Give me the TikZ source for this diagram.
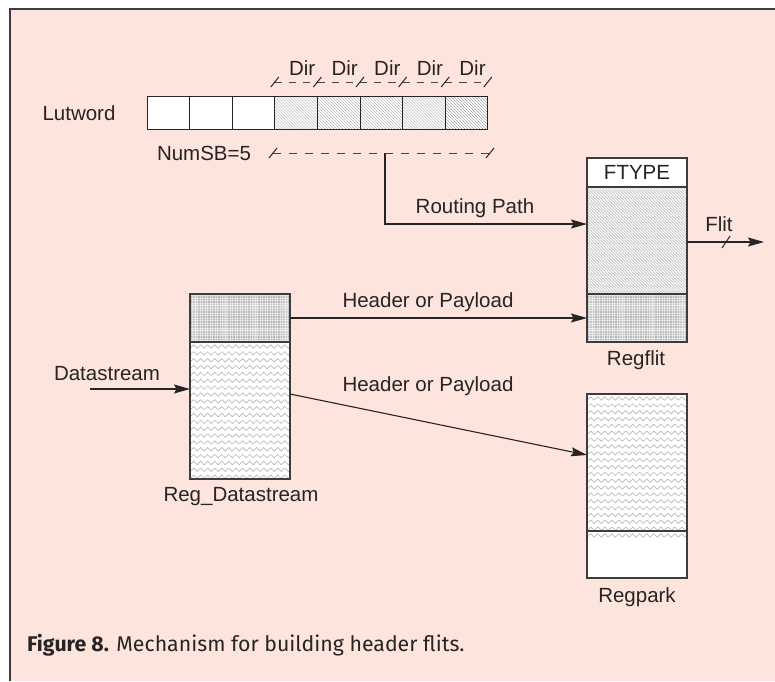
\documentclass[tikz,border=0pt]{standalone}
\usepackage{fontspec}
\setmainfont{Liberation Sans}
\newfontfamily\capfont{Fira Sans}
\usetikzlibrary{arrows.meta,decorations.pathmorphing,calc}

\definecolor{pagepink}{RGB}{253,229,221}
\definecolor{ink}{RGB}{38,36,36}
\definecolor{framegray}{RGB}{60,60,60}
\definecolor{hatchgray}{RGB}{150,150,150}

\tikzset{
  every node/.style={font=\fontsize{20.5}{24}\selectfont, text=ink},
  % fine diagonal hatching
  hatchfill/.style={path picture={
    \foreach \k in {-120,-117,...,120}
      \draw[hatchgray, line width=0.4pt, dash pattern=on 1.2pt off 0.5pt]
        ([shift={({\k*1pt-160pt},160pt)}]path picture bounding box.center) -- ++(320pt,-320pt);
  }},
  % checkered cross-hatching
  crossfill/.style={path picture={
    \fill[gray!55] ([shift={(-60pt,-60pt)}]path picture bounding box.center) rectangle ++(120pt,120pt);
    \foreach \k in {-60,-57.5,...,60} {
      \draw[white, line width=0.9pt, opacity=0.5]
        ([shift={(\k*1pt,-60pt)}]path picture bounding box.center) -- ++(0pt,120pt);
      \draw[white, line width=0.9pt, opacity=0.5]
        ([shift={(-60pt,\k*1pt)}]path picture bounding box.center) -- ++(120pt,0pt);
    }
    \foreach \k in {-45,-15,15,45} {
      \draw[white, line width=4pt, opacity=0.22]
        ([shift={(\k*1pt,-60pt)}]path picture bounding box.center) -- ++(0pt,120pt);
    }
    \foreach \k in {-12,12} {
      \draw[white, line width=4pt, opacity=0.22]
        ([shift={(-60pt,\k*1pt)}]path picture bounding box.center) -- ++(120pt,0pt);
    }
  }},
  % rows of zigzag lines
  zigfill/.style={path picture={
    \foreach \r in {0,...,#1}
      \draw[gray!65, line width=0.5pt, decorate,
            decoration={zigzag, segment length=7pt, amplitude=1.7pt}]
        ([shift={(-5pt,{-4.5pt-6.85pt*\r})}]path picture bounding box.north west) -- ++(115pt,0pt);
  }},
  cell/.style={draw=ink, line width=1pt, fill=white, inner sep=0pt, outer sep=0pt,
               minimum width=42.6pt, minimum height=33pt},
  reg/.style={draw=framegray, line width=1.2pt, fill=white, inner sep=0pt, outer sep=0pt,
              minimum width=100pt},
  conn/.style={draw=ink, line width=1.1pt, -{Stealth[length=16pt,width=9pt,inset=2.5pt]}},
  dashline/.style={draw=ink!85, line width=1pt, dash pattern=on 7.1pt off 7.1pt},
  tick/.style={draw=ink, line width=1pt},
}

\begin{document}
\begin{tikzpicture}[x=1pt,y=-1pt]
  \useasboundingbox (0,0) rectangle (775,681);
  \fill[white] (0,0) rectangle (775,681);
  \fill[pagepink] (10,9) rectangle (775,681);
  \draw[framegray, line width=1.4pt] (10,681) -- (10,9) -- (775,9);

  % Lutword register
  \foreach \i in {1,2,3}
    \node[cell] (c\i) at ({147+42.6*(\i-0.5)},112.5) {};
  \foreach \i in {4,...,8}
    \node[cell, hatchfill] (c\i) at ({147+42.6*(\i-0.5)},112.5) {};
  \node (lutword) at (79,113) {Lutword};

  % Dir fields
  \coordinate (dirl) at ($(c4.north west)+(0,-14)$);
  \coordinate (dirr) at ($(c8.north east)+(0,-14)$);
  \draw[dashline] (dirl) -- (dirr);
  \foreach \i in {4,...,8} {
    \draw[tick] ($(c\i.north west)+(0,-14)$) +(-4,5) -- +(4,-5);
    \node (dir\i) at ($(c\i.north)+(6,-28)$) {Dir};
  }
  \draw[tick] (dirr) +(-4,5) -- +(4,-5);

  % NumSB span
  \node (numsb) at (204,153) {NumSB=5};
  \coordinate (nsl) at (273,153);
  \coordinate (nsr) at (490,153);
  \draw[dashline, dash pattern=on 8pt off 8pt] (nsl) -- (nsr);
  \draw[tick] (nsl) +(-4,5) -- +(4,-5);
  \draw[tick] (nsr) +(-4,5) -- +(4,-5);
  \coordinate (nsmid) at (385,153);

  % Regflit
  \node[reg, minimum height=29pt] (ftype) at (637,172.5) {FTYPE};
  \node[reg, minimum height=107pt, hatchfill] (rfbody) at (637,240.5) {};
  \node[reg, minimum height=48pt, crossfill] (rfhead) at (637,318) {};
  \node (regflit) at (636,360) {Regflit};

  % Reg_Datastream
  \node[reg, minimum height=48pt, crossfill] (rdhead) at (240,318) {};
  \node[reg, minimum height=137pt, zigfill=19] (rdbody) at (240,410.5) {};
  \node (regds) at (241,497) {Reg\_Datastream};

  % Regpark
  \node[reg, minimum height=137pt, zigfill=19] (rpbody) at (637,462.5) {};
  \node[reg, minimum height=47pt, zigfill=0] (rpfoot) at (637,554.5) {};
  \node (regpark) at (637,597) {Regpark};

  % routing path
  \coordinate (rpcorner) at (385,224);
  \draw[conn] (nsmid) -- (rpcorner) -- (rfbody.west |- rpcorner);
  \node (routelbl) at (475,208) {Routing Path};

  % flit output
  \coordinate (flitend) at (764,242);
  \coordinate (flitmark) at (726,242);
  \draw[conn] (rfbody.east |- flitend) -- (flitend);
  \draw[tick] (flitmark) +(-4,6) -- +(4,-6);
  \node (flitlbl) at (719,224) {Flit};

  % header or payload transfers
  \draw[conn] (rdhead.east) -- (rfhead.west);
  \node (hp1) at (428,302) {Header or Payload};
  \coordinate (h2from) at (0,394);
  \coordinate (h2to) at (0,455);
  \draw[conn] (rdbody.east |- h2from) -- (rpbody.west |- h2to);
  \node (hp2) at (428,386) {Header or Payload};

  % datastream input
  \coordinate (dsin) at (90,389);
  \draw[conn] (dsin) -- (rdbody.west |- dsin);
  \node (dslbl) at (107,374) {Datastream};

  % caption
  \node[anchor=west, inner sep=0pt, font=\capfont\fontsize{21.3}{25}\selectfont] (caption)
    at (27,645) {\textbf{Figure 8.} Mechanism for building header flits.};
\end{tikzpicture}
\end{document}
